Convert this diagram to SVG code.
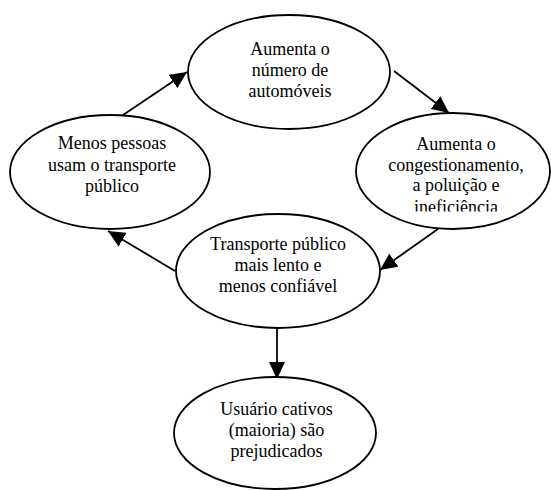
<svg xmlns="http://www.w3.org/2000/svg" width="551" height="490" viewBox="0 0 551 490">
<defs>
<style>
.node ellipse{fill:#fff;stroke:#000;stroke-width:1.8}
.node text{font-size:18px;fill:#000;text-anchor:middle}
.edges line{stroke:#000;stroke-width:1.8;marker-end:url(#arr)}
</style>
<marker id="arr" markerUnits="userSpaceOnUse" markerWidth="18" markerHeight="16" refX="17" refY="8" orient="auto">
<path d="M0,0 L17,8 L0,16 Z" fill="#000"/>
</marker>
<clipPath id="clipR"><rect x="340" y="100" width="211" height="111.5"/></clipPath>
</defs>
<rect width="551" height="490" fill="#fff"/>
<g class="edges" id="connectors">
<line x1="123" y1="115" x2="187" y2="72"/>
<line x1="394" y1="71" x2="449" y2="113"/>
<line x1="438" y1="229" x2="380" y2="270"/>
<line x1="175" y1="271" x2="108" y2="231"/>
<line x1="277" y1="328" x2="277" y2="379"/>
</g>
<g font-family="Liberation Serif, Times New Roman, serif">
<g class="node" id="n-automoveis">
<ellipse cx="289" cy="72" rx="101" ry="57"/>
<text x="290" y="55">Aumenta o</text>
<text x="290" y="76">número de</text>
<text x="290" y="97">automóveis</text>
</g>
<g class="node" id="n-congestionamento">
<ellipse cx="453" cy="171" rx="97" ry="58"/>
<g clip-path="url(#clipR)">
<text x="456" y="150">Aumenta o</text>
<text x="456" y="170.7">congestionamento,</text>
<text x="456" y="191.4">a poluição e</text>
<text x="456" y="212.6">ineficiência</text>
</g>
</g>
<g class="node" id="n-menos">
<ellipse cx="110" cy="172" rx="100" ry="57"/>
<text x="112" y="149">Menos pessoas</text>
<text x="112" y="170.7">usam o transporte</text>
<text x="112" y="191.7">público</text>
</g>
<g class="node" id="n-transporte">
<ellipse cx="278" cy="271" rx="102" ry="57"/>
<text x="278" y="250">Transporte público</text>
<text x="278" y="270.7">mais lento e</text>
<text x="278" y="291.7">menos confiável</text>
</g>
<g class="node" id="n-usuarios">
<ellipse cx="275" cy="433" rx="101" ry="56"/>
<text x="276.5" y="415">Usuário cativos</text>
<text x="276.5" y="435.7">(maioria) são</text>
<text x="276.5" y="456.7">prejudicados</text>
</g>
</g>
</svg>
